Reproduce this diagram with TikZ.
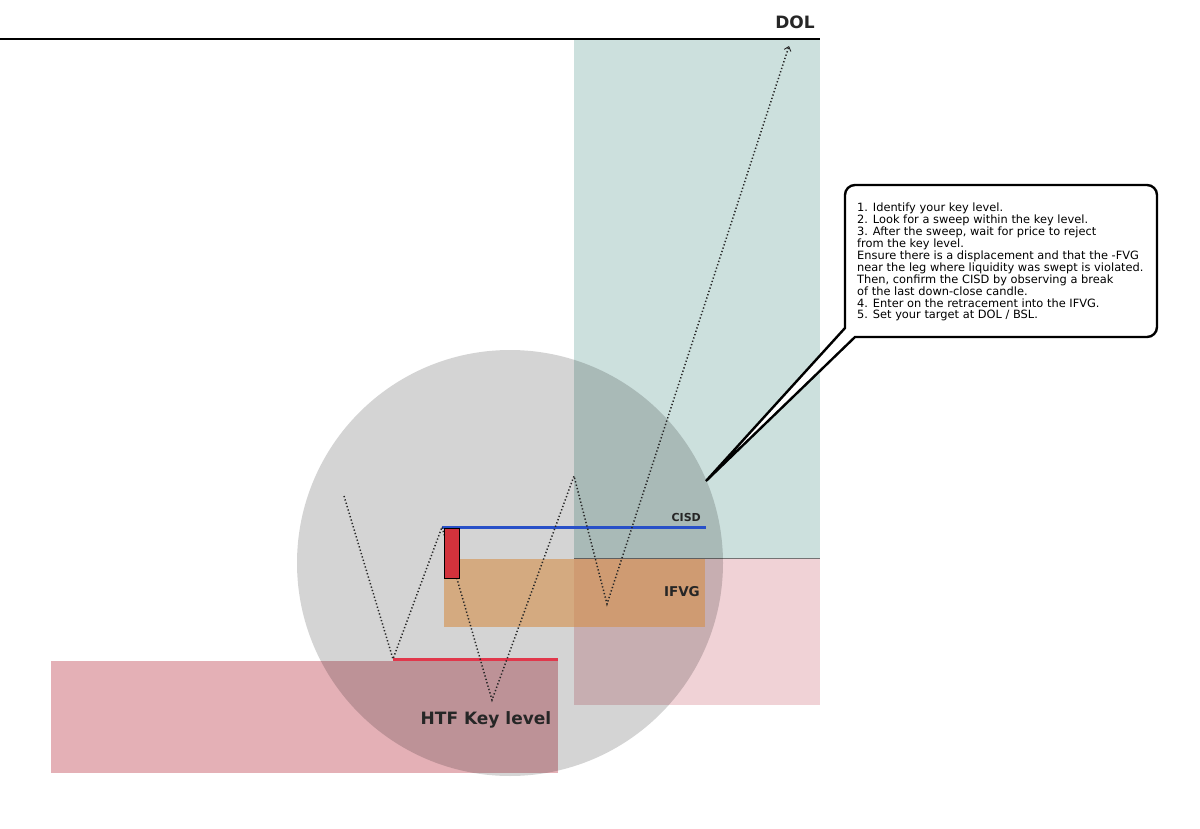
\documentclass[tikz,border=0pt]{standalone}
\usepackage{fontspec}
\setmainfont{DejaVu Sans}
\usetikzlibrary{arrows.meta}
\definecolor{teal1}{RGB}{204,224,221}
\definecolor{pink1}{RGB}{240,210,214}
\definecolor{pink2}{RGB}{228,176,182}
\definecolor{orng}{RGB}{255,172,88}
\definecolor{cisdblue}{RGB}{40,80,200}
\definecolor{candle}{RGB}{210,50,60}
\definecolor{keyred}{RGB}{225,55,75}
\tikzset{
  pathdot/.style={line width=1.5pt, dash pattern=on 1.3pt off 2.2pt, black!85},
  lbl/.style={font=\bfseries, inner sep=0pt, text=black!85},
}
\begin{document}
\begin{tikzpicture}[x=1pt,y=-1pt]
\useasboundingbox (0,0) rectangle (1200,829);
\fill[white] (0,0) rectangle (1200,829);
% zones
\fill[teal1] (574,40) rectangle (820,558);
\fill[pink1] (574,558) rectangle (820,705);
\draw[black!55, line width=0.8pt] (574,558) -- (820,558);
\fill[pink2] (51,661) rectangle (558,773);
\fill[orng, fill opacity=0.6] (444,559) rectangle (705,627);
% circle
\fill[black, fill opacity=0.17] (510,563) circle (213);
% top line
\draw[line width=2.6pt] (0,39) -- (820,39);
\node[lbl, font=\bfseries\fontsize{17}{20}\selectfont, anchor=base] (dol) at (795,29) {DOL};
% key level line
\coordinate (k1) at (393,659);
\coordinate (k2) at (558,659);
\draw[keyred, line width=3pt] (k1) -- (k2);
% CISD line
\coordinate (c1) at (442,527);
\coordinate (c2) at (706,527);
\draw[cisdblue, line width=3pt] (c1) -- (c2);
\node[lbl, font=\bfseries\fontsize{11}{13}\selectfont, anchor=base east] (cisd) at (701,521) {CISD};
% price path
\coordinate (p0) at (344,496);
\coordinate (p1) at (393,659);
\coordinate (p2) at (442,527);
\coordinate (p3) at (492,700);
\coordinate (p4) at (574,476);
\coordinate (p5) at (607,604);
\coordinate (p6) at (789,46);
\draw[pathdot, -{Straight Barb[length=4pt,width=7pt,line width=0.9pt]}] (p0) -- (p1) -- (p2) -- (p3) -- (p4) -- (p5) -- (p6);
% candle
\draw[fill=candle, line width=0.9pt] (444,528) rectangle (459,578);
% labels
\node[lbl, font=\bfseries\fontsize{13.5}{16}\selectfont, anchor=base east] (ifvg) at (700,596) {IFVG};
\node[lbl, font=\bfseries\fontsize{17}{20}\selectfont, anchor=base] (htf) at (486,724) {HTF Key level};
% callout
\coordinate (tip) at (706,481);
\draw[line width=2.4pt, fill=white, rounded corners=10pt]
  (845,300) [sharp corners] -- (845,328) -- (tip) -- (855,337) [rounded corners=10pt] -- (1157,337) -- (1157,185) -- (845,185) -- (845,300);
\node[anchor=north west, align=left, inner sep=0pt, font=\fontsize{11.4}{11.9}\selectfont] (txt) at (857,203) {%
1. Identify your key level.\\
2. Look for a sweep within the key level.\\
3. After the sweep, wait for price to reject\\
from the key level.\\
Ensure there is a displacement and that the -FVG\\
near the leg where liquidity was swept is violated.\\
Then, confirm the CISD by observing a break\\
of the last down-close candle.\\
4. Enter on the retracement into the IFVG.\\
5. Set your target at DOL / BSL.};
\end{tikzpicture}
\end{document}
